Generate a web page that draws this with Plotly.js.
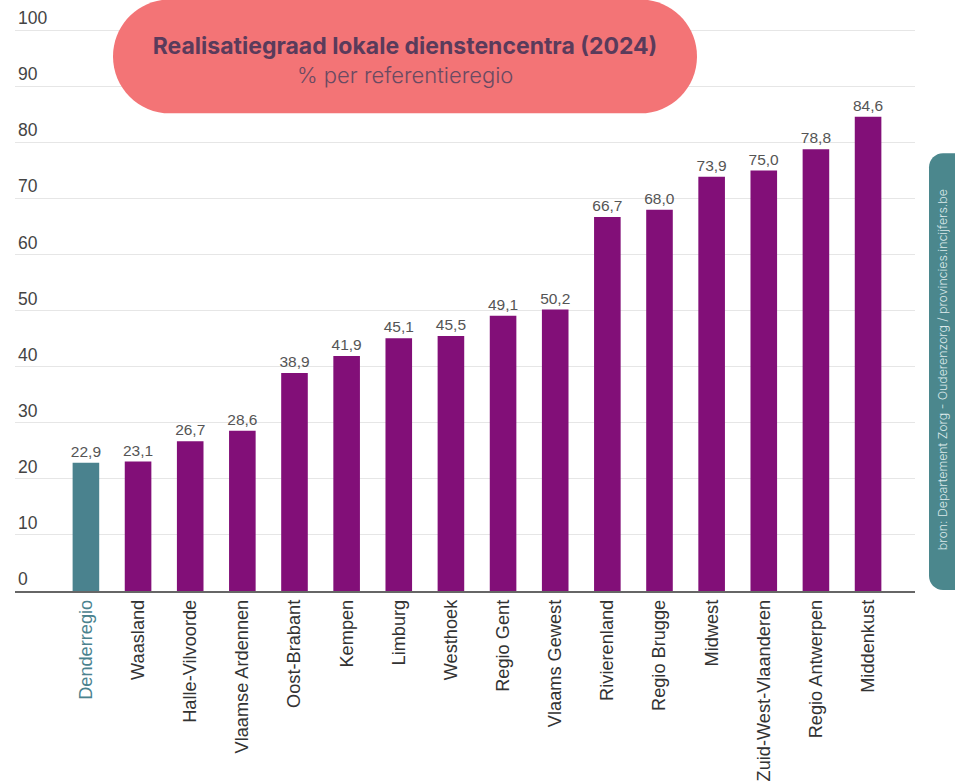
<!DOCTYPE html>
<html>
<head>
<meta charset="utf-8">
<script src="https://cdn.plot.ly/plotly-3.0.1.min.js"></script>
<style>html,body{margin:0;padding:0;background:#fff;}#chart{width:955px;height:782px;}</style>
</head>
<body>
<div id="chart"></div>
<script>
const categories = ["Denderregio","Waasland","Halle-Vilvoorde","Vlaamse Ardennen","Oost-Brabant","Kempen","Limburg","Westhoek","Regio Gent","Vlaams Gewest","Rivierenland","Regio Brugge","Midwest","Zuid-West-Vlaanderen","Regio Antwerpen","Middenkust"];
const values = [22.9,23.1,26.7,28.6,38.9,41.9,45.1,45.5,49.1,50.2,66.7,68.0,73.9,75.0,78.8,84.6];
const highlight = "Denderregio";
const yTicks = [0,10,20,30,40,50,60,70,80,90,100];

const TEAL = "#4a828e", PURPLE = "#820f78";
const W = 955, H = 782, L = 15, R = 40, B = 191;
const Y_MAX = 104;
const pxPer = 5.61; // pixels per unit
const ph = Y_MAX * pxPer;
const T = H - B - ph;
const pw = W - L - R;
const fx = p => (p - L) / pw;
const fy = p => (H - B - p) / ph;

function roundRect(x0, y0, x1, y1, r) {
  const k = 0.5523 * r;
  const P = (x, y) => fx(x).toFixed(5) + "," + fy(y).toFixed(5);
  return "M" + P(x0 + r, y0) +
    " L" + P(x1 - r, y0) +
    " C" + P(x1 - r + k, y0) + " " + P(x1, y0 + r - k) + " " + P(x1, y0 + r) +
    " L" + P(x1, y1 - r) +
    " C" + P(x1, y1 - r + k) + " " + P(x1 - r + k, y1) + " " + P(x1 - r, y1) +
    " L" + P(x0 + r, y1) +
    " C" + P(x0 + r - k, y1) + " " + P(x0, y1 - r + k) + " " + P(x0, y1 - r) +
    " L" + P(x0, y0 + r) +
    " C" + P(x0, y0 + r - k) + " " + P(x0 + r - k, y0) + " " + P(x0 + r, y0) + " Z";
}

const colors = categories.map(c => c === highlight ? TEAL : PURPLE);
const tickText = categories.map(c => c === highlight ? '<span style="color:' + TEAL + '">' + c + '</span>' : c);

const trace = {
  type: "bar",
  x: categories,
  y: values,
  marker: {color: colors},
  texttemplate: "%{y:.1f}",
  textposition: "outside",
  constraintext: "none",
  textfont: {family: "Liberation Sans, Arial, sans-serif", size: 15.5, color: "#555"},
  cliponaxis: false,
  hoverinfo: "x+y"
};

const layout = {
  width: W, height: H,
  margin: {l: L, r: R, t: T, b: B, pad: 0},
  separators: ",.",
  paper_bgcolor: "#fff", plot_bgcolor: "#fff",
  showlegend: false,
  bargap: 0.49,
  font: {family: "Liberation Sans, Arial, sans-serif", color: "#333"},
  title: {
    text: "<b>Realisatiegraad lokale dienstencentra (2024)</b>",
    font: {family: "Inter, sans-serif", size: 23, color: "#5a3b5b"},
    x: 405 / W, xanchor: "center", xref: "container",
    y: 1 - 46 / H, yanchor: "middle", yref: "container"
  },
  xaxis: {
    type: "category",
    range: [-1.36, 15.9],
    tickangle: -90,
    tickvals: categories,
    ticktext: tickText,
    tickfont: {size: 18.2, color: "#333"},
    showline: true, linecolor: "#666", linewidth: 1.5,
    ticks: "", showgrid: false, fixedrange: true
  },
  yaxis: {
    range: [0, Y_MAX],
    tickvals: yTicks,
    ticktext: yTicks.map(String),
    ticklabelposition: "inside top",
    tickfont: {size: 17.5, color: "#444"},
    gridcolor: "#e6e6e6", gridwidth: 1,
    zeroline: false, showline: false, ticks: "", fixedrange: true
  },
  shapes: [
    {type: "path", xref: "paper", yref: "paper", layer: "above", path: roundRect(113, -1, 697, 113, 57), fillcolor: "#f37476", line: {width: 0}},
    {type: "path", xref: "paper", yref: "paper", layer: "above", path: roundRect(929, 153, 975, 590, 14), fillcolor: "#4b878d", line: {width: 0}}
  ],
  annotations: [
    {xref: "paper", yref: "paper", x: fx(405), y: fy(75), xanchor: "center", yanchor: "middle", showarrow: false,
     text: "% per referentieregio",
     font: {family: "Inter, sans-serif", size: 22, weight: 300, color: "#6a4a62"}},
    {xref: "paper", yref: "paper", x: fx(942), y: fy(370), xanchor: "center", yanchor: "middle", textangle: -90, showarrow: false,
     text: "bron: Departement Zorg - Ouderenzorg / provincies.incijfers.be",
     font: {family: "Inter, sans-serif", size: 12.3, weight: 300, color: "#dbe9ea"}}
  ]
};

Plotly.newPlot("chart", [trace], layout, {displayModeBar: false, staticPlot: true});
</script>
</body>
</html>
